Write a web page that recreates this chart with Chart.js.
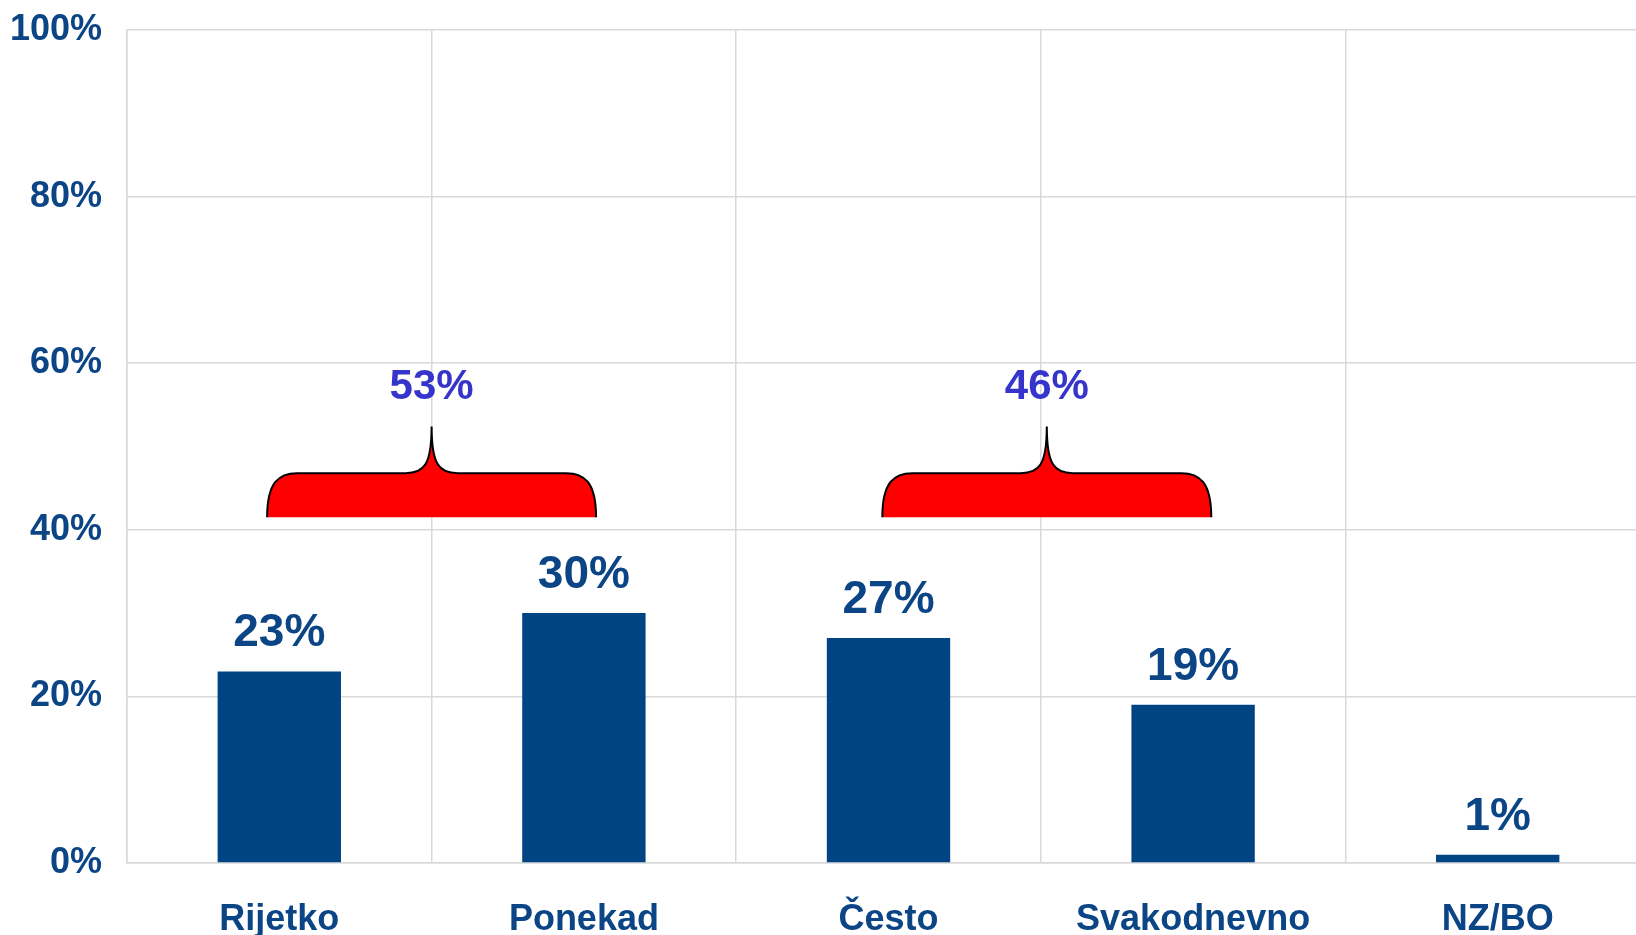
<!DOCTYPE html>
<html lang="hr">
<head>
    <meta charset="UTF-8">
    <title>Učestalost</title>
    <script src="https://cdn.jsdelivr.net/npm/chart.js"></script>
    <style>
        html, body {
            margin: 0;
            padding: 0;
            background: #fff;
            overflow: hidden;
        }
        canvas {
            display: block;
        }
    </style>
</head>
<body>
    <canvas id="barChart" width="1650" height="935"></canvas>

    <script>
        // chart data
        const categories = ["Rijetko", "Ponekad", "Često", "Svakodnevno", "NZ/BO"];
        const shares = [23, 30, 27, 19, 1];
        const yTicks = [0, 20, 40, 60, 80, 100];
        // pairs of categories grouped under a brace
        const groups = [[0, 1], [2, 3]];

        const FONT = "'Liberation Sans', Arial, sans-serif";
        const BLUE = '#004483';

        // value labels above each bar
        const valueLabels = {
            id: 'valueLabels',
            afterDatasetsDraw(chart) {
                const ctx = chart.ctx;
                const meta = chart.getDatasetMeta(0);
                ctx.save();
                ctx.font = 'bold 46px ' + FONT;
                ctx.fillStyle = '#0b4585';
                ctx.textAlign = 'center';
                ctx.textBaseline = 'alphabetic';
                meta.data.forEach((bar, i) => {
                    ctx.fillText(shares[i] + '%', bar.x, bar.y - 25);
                });
                ctx.restore();
            }
        };

        // red braces with the group totals
        const braces = {
            id: 'braces',
            afterDatasetsDraw(chart) {
                const ctx = chart.ctx;
                const x = chart.scales.x, y = chart.scales.y;
                const cw = x.getPixelForValue(1) - x.getPixelForValue(0);
                const yb = y.getPixelForValue(41.5);
                const yt = y.getPixelForValue(46.8);
                const ytip = y.getPixelForValue(52.4);
                groups.forEach((g, k) => {
                    const mid = (x.getPixelForValue(g[0]) + x.getPixelForValue(g[1])) / 2 + k * 6;
                    const x0 = mid - 0.54 * cw, x1 = mid + 0.54 * cw;
                    const r = 30, t = 26;

                    ctx.save();
                    ctx.beginPath();
                    ctx.moveTo(x0, yb);
                    ctx.bezierCurveTo(x0, yt + (yb - yt) * 0.2, x0 + r * 0.4, yt, x0 + r, yt);
                    ctx.lineTo(mid - t, yt);
                    ctx.bezierCurveTo(mid - t * 0.3, yt, mid, yt - 8, mid, ytip);
                    ctx.bezierCurveTo(mid, yt - 8, mid + t * 0.3, yt, mid + t, yt);
                    ctx.lineTo(x1 - r, yt);
                    ctx.bezierCurveTo(x1 - r * 0.4, yt, x1, yt + (yb - yt) * 0.2, x1, yb);
                    ctx.fillStyle = '#ff0000';
                    ctx.fill();
                    ctx.lineWidth = 2;
                    ctx.strokeStyle = '#000';
                    ctx.stroke();

                    const total = g.reduce((s, i) => s + shares[i], 0);
                    ctx.font = 'bold 42px ' + FONT;
                    ctx.fillStyle = '#3535cc';
                    ctx.textAlign = 'center';
                    ctx.textBaseline = 'alphabetic';
                    ctx.fillText(total + '%', mid, ytip - 28);
                    ctx.restore();
                });
            }
        };

        new Chart(document.getElementById('barChart').getContext('2d'), {
            type: 'bar',
            data: {
                labels: categories,
                datasets: [{
                    data: shares,
                    backgroundColor: BLUE,
                    barPercentage: 0.405,
                    categoryPercentage: 1
                }]
            },
            options: {
                responsive: false,
                animation: false,
                devicePixelRatio: 1,
                layout: { padding: { left: 0, right: 0, top: 30, bottom: 0 } },
                plugins: {
                    legend: { display: false },
                    tooltip: { enabled: false }
                },
                scales: {
                    x: {
                        grid: { color: '#d9d9d9', lineWidth: 1.5, drawTicks: false },
                        border: { color: '#d9d9d9', width: 1.5 },
                        ticks: {
                            color: '#0b4585',
                            font: { family: FONT, size: 36, weight: 'bold' },
                            padding: 35,
                            maxRotation: 0,
                            autoSkip: false
                        },
                        afterFit(scale) {
                            scale.height = 72;
                            scale.paddingLeft = 0;
                            scale.paddingRight = 0;
                        }
                    },
                    y: {
                        min: 0,
                        max: 100,
                        afterBuildTicks(scale) {
                            scale.ticks = yTicks.map(v => ({ value: v }));
                        },
                        grid: { color: '#d9d9d9', lineWidth: 1.5, drawTicks: false },
                        border: { color: '#d9d9d9', width: 1.5 },
                        ticks: {
                            color: '#0b4585',
                            font: { family: FONT, size: 36, weight: 'bold' },
                            padding: 25,
                            callback: v => v + '%'
                        },
                        afterFit(scale) {
                            scale.width = 127;
                            scale.paddingTop = 0;
                            scale.paddingBottom = 0;
                        }
                    }
                }
            },
            plugins: [valueLabels, braces]
        });
    </script>
</body>
</html>
